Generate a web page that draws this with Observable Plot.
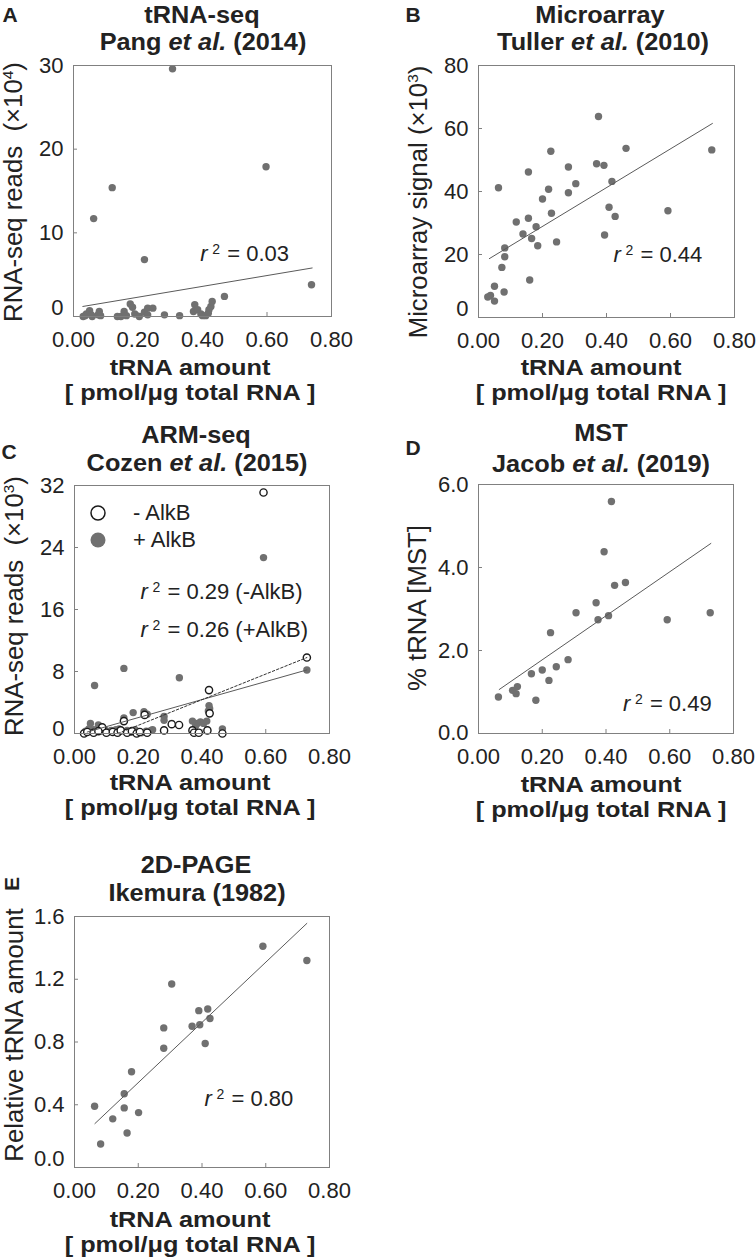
<!DOCTYPE html>
<html>
<head>
<meta charset="utf-8">
<script src="https://cdn.jsdelivr.net/npm/d3@7"></script>
<script src="https://cdn.jsdelivr.net/npm/@observablehq/plot@0.6"></script>
<style>
  body { margin: 0; background: #fff; font-family: "Liberation Sans", Arial, Helvetica, sans-serif; color: #222; }
  #root { position: relative; width: 756px; height: 1257px; overflow: hidden; background: #fff; }
  .t { position: absolute; white-space: nowrap; line-height: 0.9; text-align: center; }
  svg { overflow: visible; }
</style>
</head>
<body>
<div id="root"></div>
<script>
// ---------- shared ticks ----------
const xTicks = [0, 0.2, 0.4, 0.6, 0.8];

// ---------- Panel A: tRNA-seq, Pang et al. (2014) ----------
const aX = [0.030,0.036,0.040,0.050,0.055,0.058,0.0625,0.076,0.080,0.084,0.120,0.136,0.147,0.157,0.164,0.176,0.183,0.190,0.204,0.220,0.220,0.230,0.230,0.246,0.282,0.307,0.329,0.372,0.376,0.385,0.395,0.400,0.410,0.418,0.420,0.426,0.430,0.468,0.597,0.738];
const aY = [0.0,0.1,0.3,0.7,0.2,0.0,11.7,0.2,0.6,0.1,15.4,0.0,0.0,0.6,0.1,1.5,1.1,0.3,0.0,6.8,0.5,1.0,0.2,1.0,0.2,29.6,0.1,0.6,1.4,0.8,0.3,0.1,0.1,0.4,0.8,1.2,1.8,2.4,17.9,3.8];
const aFitX = [0.029, 0.740];
const aFitY = [1.2, 5.8];
const aYTicks = [0, 10, 20, 30];
const aR2 = {x: 0.393, y: 7.5, label: "= 0.03"};

// ---------- Panel B: Microarray, Tuller et al. (2010) ----------
const bX = [0.375,0.461,0.226,0.729,0.369,0.392,0.281,0.156,0.0625,0.219,0.417,0.304,0.281,0.200,0.408,0.592,0.228,0.427,0.118,0.156,0.180,0.139,0.166,0.394,0.244,0.185,0.082,0.082,0.073,0.160,0.050,0.080,0.0375,0.029,0.050];
const bY = [63.8,53.7,52.8,53.2,48.8,48.3,47.8,46.2,41.2,40.7,43.2,42.5,39.6,37.6,35.0,33.9,33.1,32.1,30.3,31.5,28.8,26.5,25.1,26.2,24.0,22.8,22.1,19.3,15.9,11.9,9.9,8.1,7.0,6.5,5.2];
const bFitX = [0.034, 0.731];
const bFitY = [18.7, 61.6];
const bYTicks = [0, 20, 40, 60, 80];
const bR2 = {x: 0.422, y: 19.9, label: "= 0.44"};

// ---------- Panel C: ARM-seq, Cozen et al. (2015) ----------
const cPlusX = [0.593,0.729,0.155,0.329,0.063,0.422,0.424,0.420,0.184,0.218,0.228,0.155,0.281,0.281,0.305,0.370,0.385,0.395,0.405,0.415,0.380,0.050,0.075,0.464,0.240,0.245,0.030,0.035,0.045,0.060,0.080,0.095,0.105,0.115,0.130,0.140,0.165,0.175,0.190,0.200,0.210,0.225];
const cPlusY = [22.7,8.2,8.4,7.2,6.2,3.6,3.2,2.9,2.7,2.8,2.5,2.0,2.2,1.7,1.3,1.6,1.3,1.5,1.3,1.6,1.0,1.3,1.1,0.6,0.4,0.5,0.1,0.3,0.6,0.5,0.3,0.5,0.2,0.4,0.5,0.6,0.4,0.2,0.5,0.2,0.1,0.3];
const cMinusX = [0.593,0.729,0.422,0.424,0.155,0.220,0.087,0.328,0.305,0.281,0.370,0.375,0.390,0.417,0.464,0.228,0.030,0.040,0.060,0.075,0.100,0.120,0.135,0.145,0.165,0.180,0.195,0.205];
const cMinusY = [31.1,9.8,5.6,2.6,1.6,2.4,0.8,1.1,1.2,0.4,0.4,0.1,0.1,0.4,0.0,0.1,0.0,0.2,0.1,0.3,0.1,0.2,0.1,0.4,0.1,0.3,0.0,0.2];
const cPlusFitX = [0.040, 0.729];
const cPlusFitY = [0.19, 8.2];
const cMinusFitX = [0.136, 0.729];
const cMinusFitY = [0.0, 9.8];
const cYTicks = [0, 8, 16, 24, 32];
const cR2a = {x: 0.207, y: 18.3, label: "= 0.29 (-AlkB)"};
const cR2b = {x: 0.207, y: 13.4, label: "= 0.26 (+AlkB)"};
const cLegend = ["- AlkB", "+ AlkB"];

// ---------- Panel D: MST, Jacob et al. (2019) ----------
const dX = [0.417,0.394,0.427,0.461,0.369,0.306,0.727,0.375,0.408,0.592,0.226,0.281,0.244,0.200,0.166,0.221,0.122,0.107,0.118,0.0625,0.180];
const dY = [5.59,4.38,3.57,3.64,3.15,2.91,2.91,2.74,2.84,2.74,2.43,1.78,1.61,1.53,1.44,1.28,1.13,1.04,0.96,0.88,0.80];
const dFitX = [0.065, 0.729];
const dFitY = [1.06, 4.58];
const dYTicks = [0, 2, 4, 6];
const dR2 = {x: 0.453, y: 0.72, label: "= 0.49"};

// ---------- Panel E: 2D-PAGE, Ikemura (1982) ----------
const eX = [0.591,0.729,0.305,0.418,0.390,0.425,0.393,0.369,0.280,0.280,0.410,0.179,0.156,0.156,0.063,0.201,0.120,0.165,0.082];
const eY = [1.41,1.32,1.17,1.01,1.00,0.95,0.91,0.90,0.89,0.76,0.79,0.61,0.47,0.38,0.39,0.35,0.31,0.22,0.15];
const eFitX = [0.064, 0.729];
const eFitY = [0.28, 1.556];
const eYTicks = [0, 0.4, 0.8, 1.2, 1.6];
const eR2 = {x: 0.408, y: 0.44, label: "= 0.80"};

// ---------- helpers ----------
const FONT = '"Liberation Sans", Arial, Helvetica, sans-serif';
const DOT = "#707070";
const LINE = "#5a5a5a";
const FRAME = "#808080";
const root = document.getElementById("root");
const pts = (xs, ys) => xs.map((x, i) => ({x, y: ys[i]}));

function r2Marks(a) {
  return [
    Plot.text([a], {x: "x", y: "y", text: () => "r", fontStyle: "italic", textAnchor: "start", fontSize: 22, fill: "#222"}),
    Plot.text([a], {x: "x", y: "y", text: () => "2", textAnchor: "start", fontSize: 14, dx: 12, dy: -4, fill: "#222"}),
    Plot.text([a], {x: "x", y: "y", text: "label", textAnchor: "start", fontSize: 22, dx: 27, fill: "#222"})
  ];
}

function panel({left, L, R, T, B, yDomain, yTicks, yFmt, zeroShift, marks}) {
  const mt = 25, mb = 45;
  const svg = Plot.plot({
    width: 378,
    height: B - T + mt + mb,
    marginLeft: L - left,
    marginRight: left + 378 - R,
    marginTop: mt,
    marginBottom: mb,
    x: {domain: [0, 0.8]},
    y: {domain: yDomain},
    style: {fontFamily: FONT, fontSize: "22px", color: "#222", background: "transparent", overflow: "visible"},
    marks: [
      Plot.tickX(xTicks, {x: d => d, insetTop: B - T - 4, stroke: FRAME}),
      Plot.tickY(yTicks, {y: d => d, insetRight: R - L - 4, stroke: FRAME}),
      Plot.axisX({ticks: xTicks, tickSize: 0, tickPadding: 15, tickFormat: d3.format(".2f"), label: null}),
      Plot.axisY({ticks: yTicks.filter(v => v !== 0), tickSize: 0, tickPadding: 10, tickFormat: yFmt, label: null}),
      Plot.axisY({ticks: [0], tickSize: 0, tickPadding: 10, tickFormat: yFmt, label: null, dy: -zeroShift}),
      ...marks,
      Plot.frame({stroke: FRAME})
    ]
  });
  svg.style.position = "absolute";
  svg.style.left = left + "px";
  svg.style.top = (T - mt) + "px";
  root.appendChild(svg);
}

function txt(html, x, y, {size = 23, weight = "bold", rotate = false, anchor = "middle", sx = 1, lh = null} = {}) {
  const d = document.createElement("div");
  d.className = "t";
  d.innerHTML = html;
  d.style.left = x + "px";
  d.style.top = y + "px";
  d.style.fontSize = size + "px";
  d.style.fontWeight = weight;
  if (lh) d.style.lineHeight = lh + "px";
  const tx = anchor === "middle" ? "-50%" : "0";
  if (anchor !== "middle") { d.style.transformOrigin = "left center"; d.style.textAlign = "left"; }
  d.style.transform = `translate(${tx},-50%)` + (rotate ? " rotate(-90deg)" : "") + (sx !== 1 ? ` scaleX(${sx})` : "");
  root.appendChild(d);
}

// ---------- Panel A ----------
panel({
  left: 0, L: 73, R: 331, T: 65, B: 316,
  yDomain: [0, 30], yTicks: aYTicks, yFmt: d3.format("d"), zeroShift: 9,
  marks: [
    Plot.dot(pts(aX, aY), {x: "x", y: "y", r: 3.7, fill: DOT}),
    Plot.line(pts(aFitX, aFitY), {x: "x", y: "y", stroke: LINE, strokeWidth: 1}),
    ...r2Marks(aR2)
  ]
});

// ---------- Panel B ----------
panel({
  left: 378, L: 478, R: 734, T: 65, B: 317,
  yDomain: [0, 80], yTicks: bYTicks, yFmt: d3.format("d"), zeroShift: 9,
  marks: [
    Plot.dot(pts(bX, bY), {x: "x", y: "y", r: 3.7, fill: DOT}),
    Plot.line(pts(bFitX, bFitY), {x: "x", y: "y", stroke: LINE, strokeWidth: 1}),
    ...r2Marks(bR2)
  ]
});

// ---------- Panel C ----------
panel({
  left: 0, L: 74, R: 329, T: 485, B: 733,
  yDomain: [0, 32], yTicks: cYTicks, yFmt: d3.format("d"), zeroShift: 5,
  marks: [
    Plot.dot(pts(cPlusX, cPlusY), {x: "x", y: "y", r: 3.7, fill: DOT}),
    Plot.dot(pts(cMinusX, cMinusY), {x: "x", y: "y", r: 3.6, fill: "white", stroke: "#1a1a1a", strokeWidth: 1.4}),
    Plot.line(pts(cPlusFitX, cPlusFitY), {x: "x", y: "y", stroke: LINE, strokeWidth: 1}),
    Plot.line(pts(cMinusFitX, cMinusFitY), {x: "x", y: "y", stroke: "#333", strokeWidth: 1, strokeDasharray: "2.5,2"}),
    ...r2Marks(cR2a),
    ...r2Marks(cR2b)
  ]
});

// ---------- Panel D ----------
panel({
  left: 378, L: 478, R: 733, T: 484, B: 733,
  yDomain: [0, 6], yTicks: dYTicks, yFmt: d3.format(".1f"), zeroShift: 1,
  marks: [
    Plot.dot(pts(dX, dY), {x: "x", y: "y", r: 3.7, fill: DOT}),
    Plot.line(pts(dFitX, dFitY), {x: "x", y: "y", stroke: LINE, strokeWidth: 1}),
    ...r2Marks(dR2)
  ]
});

// ---------- Panel E ----------
panel({
  left: 0, L: 74, R: 329, T: 916, B: 1167,
  yDomain: [0, 1.6], yTicks: eYTicks, yFmt: d3.format(".1f"), zeroShift: 9,
  marks: [
    Plot.dot(pts(eX, eY), {x: "x", y: "y", r: 3.7, fill: DOT}),
    Plot.line(pts(eFitX, eFitY), {x: "x", y: "y", stroke: LINE, strokeWidth: 1}),
    ...r2Marks(eR2)
  ]
});

// ---------- legend for C ----------
const leg = document.createElement("div");
leg.style.position = "absolute";
leg.style.left = "0px"; leg.style.top = "0px";
leg.innerHTML = `<svg width="120" height="50" style="position:absolute;left:88px;top:503px">
  <circle cx="10" cy="10" r="7" fill="white" stroke="#1a1a1a" stroke-width="1.5"></circle>
  <circle cx="10" cy="37" r="7.5" fill="${DOT}"></circle></svg>`;
root.appendChild(leg);
txt(cLegend[0], 133, 513, {size: 22, weight: "normal", anchor: "start"});
txt(cLegend[1], 133, 540, {size: 22, weight: "normal", anchor: "start"});

// ---------- panel letters ----------
txt("A", 10, 15, {size: 21});
txt("B", 413, 15, {size: 21});
txt("C", 9, 452, {size: 21});
txt("D", 413, 448, {size: 21});
txt("E", 12, 884, {size: 21, rotate: true});

// ---------- titles ----------
const TS = {size: 23, sx: 1.1};
txt("tRNA-seq", 202, 15, TS);
txt("Pang <i>et al.</i> (2014)", 203, 42, TS);
txt("Microarray", 600, 15, TS);
txt("Tuller <i>et al.</i> (2010)", 603, 42, TS);
txt("ARM-seq", 196, 435, TS);
txt("Cozen <i>et al.</i> (2015)", 197, 463, TS);
txt("MST", 601, 433, TS);
txt("Jacob <i>et al.</i> (2019)", 601, 464, TS);
txt("2D-PAGE", 196, 865, TS);
txt("Ikemura (1982)", 197, 893, TS);

// ---------- x-axis titles (two lines in one block) ----------
const xLabel = "tRNA amount<br>[ pmol/μg total RNA ]";
const XS = {size: 22, sx: 1.15, lh: 25};
txt(xLabel, 190, 380, XS);
txt(xLabel, 601, 380, XS);
txt(xLabel, 190, 795, XS);
txt(xLabel, 601, 797, XS);
txt(xLabel, 190, 1232, XS);

// ---------- y-axis titles ----------
const YS = {size: 25, weight: "normal", rotate: true, sx: 1.03};
txt("RNA-seq reads&nbsp;&nbsp;(×10<sup style='font-size:0.6em'>4</sup>)", 13, 192, YS);
txt("Microarray signal (×10<sup style='font-size:0.6em'>3</sup>)", 418, 202, YS);
txt("RNA-seq reads&nbsp;&nbsp;(×10<sup style='font-size:0.6em'>3</sup>)", 14, 606, YS);
txt("% tRNA [MST]", 417, 608, YS);
txt("Relative tRNA amount", 14, 1035, YS);
</script>
</body>
</html>
